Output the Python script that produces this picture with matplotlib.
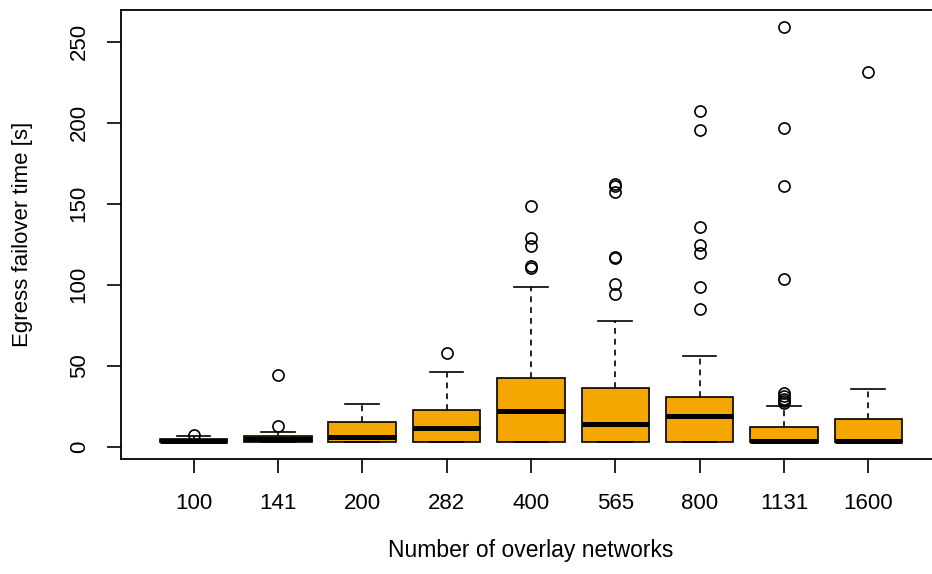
import matplotlib
matplotlib.use('Agg')
import matplotlib.pyplot as plt

plt.rcParams['font.family'] = ['Liberation Sans', 'DejaVu Sans']

# overlay network counts (x categories)
labels = ['100', '141', '200', '282', '400', '565', '800', '1131', '1600']

# box statistics, seconds
whislo = [2.5, 2.6, 2.6, 2.6, 2.6, 2.6, 2.6, 2.5, 2.5]
q1 = [2.6, 2.8, 2.8, 2.9, 2.9, 2.9, 2.9, 2.6, 2.6]
med = [3.7, 4.9, 5.8, 11.5, 22.2, 13.8, 18.8, 3.5, 3.5]
q3 = [4.9, 6.9, 15.4, 22.5, 42.2, 36.2, 30.9, 12.3, 16.9]
whishi = [6.4, 9.3, 26.2, 46.3, 98.8, 77.8, 56.2, 25.1, 35.4]
fliers = [
    [7.0],
    [12.8, 44.3],
    [],
    [57.8],
    [148.6, 128.6, 123.9, 111.7, 110.5],
    [162.0, 160.9, 157.4, 117.0, 116.4, 100.2, 94.1],
    [207.4, 195.3, 135.8, 124.3, 119.8, 98.4, 85.0],
    [259.3, 196.7, 161.1, 103.3, 33.0, 31.3, 29.6, 28.0, 27.0],
    [231.3],
]

stats = []
for i in range(len(labels)):
    stats.append({'whislo': whislo[i], 'q1': q1[i], 'med': med[i], 'q3': q3[i],
                  'whishi': whishi[i], 'fliers': fliers[i], 'label': labels[i]})

fig = plt.figure(figsize=(9.32, 5.74), dpi=100)
# the right edge of the R plot frame falls outside the image
ax = fig.add_axes([121 / 932, 1 - 459.3 / 574, 819.8 / 932, 449.3 / 574])

ax.bxp(stats, positions=range(1, 10), widths=0.8, capwidths=0.4,
       patch_artist=True, showfliers=True,
       boxprops=dict(facecolor='#F4A700', edgecolor='black', linewidth=1.2),
       medianprops=dict(color='black', linewidth=3.6, solid_capstyle='butt'),
       whiskerprops=dict(color='black', linewidth=1.2, linestyle=(0, (3.5, 3))),
       capprops=dict(color='black', linewidth=1.2),
       flierprops=dict(marker='o', markerfacecolor='none', markeredgecolor='black',
                       markersize=8, markeredgewidth=1.2))

ax.set_xlim(0.14, 9.86)
ax.set_ylim(-7.78, 269.6)
ax.set_yticks([0, 50, 100, 150, 200, 250])
ax.set_yticklabels(['0', '50', '100', '150', '200', '250'], rotation=90, va='center')

for s in ax.spines.values():
    s.set_linewidth(1.3)

ax.tick_params(axis='both', direction='out', length=10, width=1.2, labelsize=16)
ax.tick_params(axis='x', pad=14.5)
ax.tick_params(axis='y', pad=12.5)

ax.set_xlabel('Number of overlay networks', fontsize=16.5)
ax.xaxis.set_label_coords(0.5, -0.2174)
ax.xaxis.label.set_va('baseline')
ax.set_ylabel('Egress failover time [s]', fontsize=16)
ax.yaxis.set_label_coords(-0.1131, 0.5)
ax.yaxis.label.set_va('baseline')

plt.savefig('out.png', dpi=100)
